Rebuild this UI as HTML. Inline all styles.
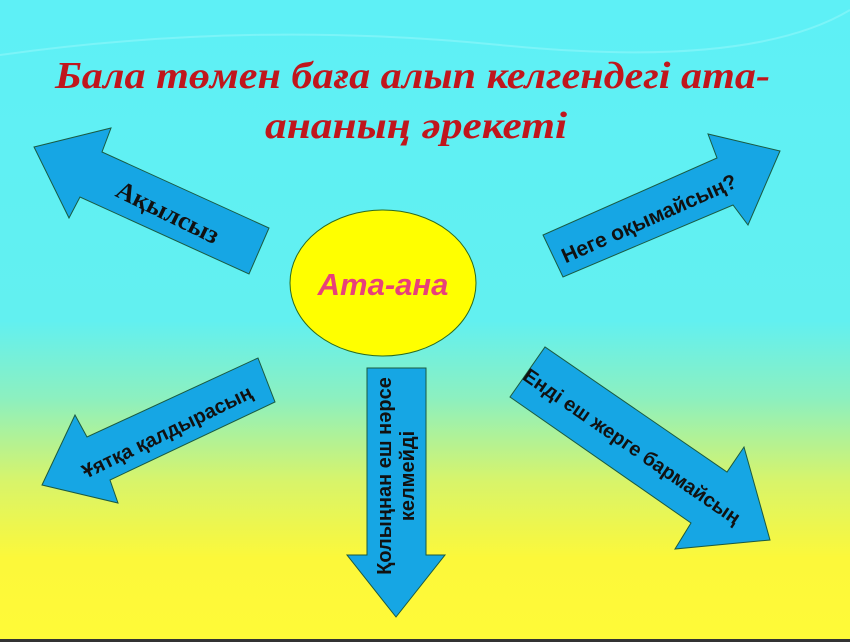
<!DOCTYPE html>
<html><head><meta charset="utf-8"><style>html,body{margin:0;padding:0}svg{display:block}</style></head>
<body>
<svg width="850" height="642" viewBox="0 0 850 642" xmlns="http://www.w3.org/2000/svg">
<defs>
<linearGradient id="bg" x1="0" y1="0" x2="0" y2="1">
<stop offset="0" stop-color="#5ef0f6"/>
<stop offset="0.5" stop-color="#62f0f0"/>
<stop offset="0.62" stop-color="#8cf0c0"/>
<stop offset="0.75" stop-color="#d8f46a"/>
<stop offset="0.87" stop-color="#fcf83a"/>
<stop offset="1" stop-color="#fffa38"/>
</linearGradient>
</defs>
<rect width="850" height="642" fill="url(#bg)"/>
<path d="M0 55 Q250 20 500 45 T850 10" fill="none" stroke="#8ff6fa" stroke-width="2" opacity="0.6"/>
<rect x="0" y="639" width="850" height="3" fill="#333"/>
<g fill="#16a6e4" stroke="#1a5a40" stroke-width="1">
<polygon points="34,147 111,128 102,152 269,228 249,274 80,197 69,218"/>
<polygon points="780,151 708,134 717,158 543,235 563,277 733,205 748,225"/>
<polygon points="42,485 75,415 87,437 258,358 275,402 110,480 118,503"/>
<polygon points="396,617 347,555 367,555 367,368 426,368 426,555 445,555"/>
<polygon points="770,540 744,447 727,472 545,347 510,397 691,523 675,549"/>
</g>
<ellipse cx="383" cy="283" rx="93" ry="73" fill="#ffff00" stroke="#2a6a20" stroke-width="1"/>
<text x="383" y="295" text-anchor="middle" font-family="Liberation Sans, sans-serif" font-weight="bold" font-style="italic" font-size="31" fill="#e8407a">Ата-ана</text>
<g font-family="Liberation Serif, serif" font-weight="bold" font-style="italic" fill="#c0161c">
<text x="55" y="88" font-size="38" textLength="715" lengthAdjust="spacingAndGlyphs">Бала төмен баға алып келгендегі ата-</text>
<text x="265" y="138" font-size="38" textLength="302" lengthAdjust="spacingAndGlyphs">ананың әрекеті</text>
</g>
<g font-family="Liberation Sans, sans-serif" font-weight="bold" fill="#111" font-size="20">
<text transform="translate(164,220) rotate(26)" text-anchor="middle" font-family="Liberation Serif, serif" font-size="26">Ақылсыз</text>
<text transform="translate(652,225) rotate(-24)" text-anchor="middle" font-size="21">Неге оқымайсың?</text>
<text transform="translate(170,438) rotate(-26)" text-anchor="middle">Ұятқа қалдырасың</text>
<text transform="translate(628,452) rotate(34.5)" text-anchor="middle">Енді еш жерге бармайсың</text>
<text transform="translate(391,476) rotate(-90)" text-anchor="middle">Қолыңнан еш нәрсе</text>
<text transform="translate(414,476) rotate(-90)" text-anchor="middle">келмейді</text>
</g>
</svg>
</body></html>
